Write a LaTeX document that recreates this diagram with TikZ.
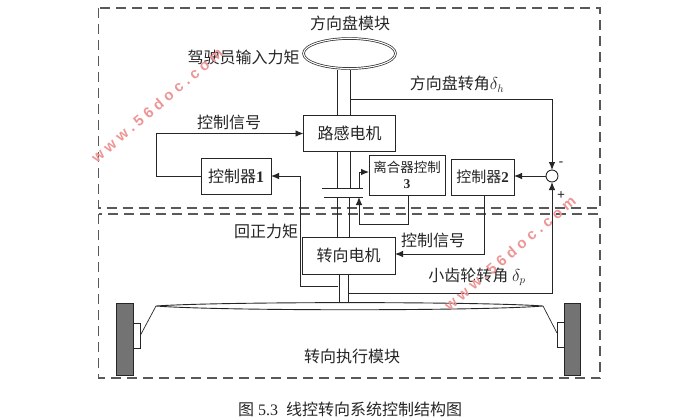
\documentclass[tikz,border=0pt]{standalone}
\usepackage{fontspec}
\setmainfont{Liberation Serif}
\newfontfamily\cjk{Noto Sans CJK SC}
\newfontfamily\wmfont[LetterSpace=28]{Liberation Sans}
\usetikzlibrary{arrows.meta,shapes.geometric}
\definecolor{linec}{gray}{0.15}
\definecolor{wmc}{RGB}{238,150,150}
\tikzset{
  every node/.style={inner sep=0pt,outer sep=0pt,text=black!85},
  wire/.style={draw=linec,line width=0.9pt},
  arr/.style={wire,-{Latex[length=8pt,width=6.5pt]}},
  dashbox/.style={draw=black!65,line width=1.2pt,dash pattern=on 10pt off 6pt},
  blockbox/.style={draw=linec,line width=0.9pt,fill=white,font=\cjk\fontsize{16}{18}\selectfont,align=center},
  lab/.style={font=\cjk\fontsize{16}{18}\selectfont},
  watermark/.style={text=wmc,font=\wmfont\bfseries\fontsize{15}{15}\selectfont,rotate=40.5},
}
\begin{document}
\begin{tikzpicture}[x=1pt,y=-1pt]
\useasboundingbox (0,0) rectangle (699,418);
\fill[white] (0,0) rectangle (699,418);
% module frames
\draw[dashbox] (98.5,8) rectangle (600,208);
\draw[dashbox] (98.5,214) rectangle (600,378);
% steering wheel
\node[draw=linec,double=white,double distance=1.1pt,line width=0.7pt,ellipse,minimum width=92pt,minimum height=30pt] (wheel) at (349.5,53.5) {};
% blocks
\node[blockbox,minimum width=92pt,minimum height=36pt] (fb) at (349.5,133.5) {路感电机};
\node[blockbox,minimum width=70pt,minimum height=36pt] (c1) at (236,176) {控制器{\rmfamily\bfseries 1}};
\node[blockbox,minimum width=76pt,minimum height=40pt,font=\cjk\fontsize{13.5}{17}\selectfont] (c3) at (407,175) {离合器控制\\[-1pt]{\rmfamily\bfseries 3}};
\node[blockbox,minimum width=63pt,minimum height=36pt,font=\cjk\fontsize{15}{17}\selectfont] (c2) at (482.5,177) {控制器{\rmfamily\bfseries 2}};
\node[blockbox,minimum width=93pt,minimum height=37pt] (sm) at (348.5,255.5) {转向电机};
\node[draw=linec,line width=0.9pt,circle,minimum size=12pt,fill=white] (sum) at (552,176) {};
% named points
\coordinate (su1) at (337,69.5); \coordinate (su2) at (350,69.5);
\coordinate (fb1) at (337,115.5); \coordinate (fb2) at (350,115.5);
\coordinate (fd1) at (337,151.5); \coordinate (fd2) at (350,151.5);
\coordinate (pu1) at (337,188); \coordinate (pu2) at (350,188);
\coordinate (pd1) at (337,197); \coordinate (pd2) at (349,197);
\coordinate (sm1) at (337,237); \coordinate (sm2) at (349,237);
\coordinate (pul) at (322,188); \coordinate (pur) at (363,188);
\coordinate (pdl) at (324,197); \coordinate (pdr) at (363,197);
\coordinate (tap1) at (350,99);
\coordinate (tap2) at (338,286);
\coordinate (tap3) at (348,293);
\coordinate (cu) at (359,188);
\coordinate (cd) at (359,197);
\coordinate (c3b) at (408,195);
\coordinate (c2b) at (484,195);
\coordinate (sb1) at (339,274); \coordinate (sb2) at (348,274);
\coordinate (rk1) at (339,303); \coordinate (rk2) at (348,303);
\coordinate (rl) at (156,306); \coordinate (rr) at (543,306);
\coordinate (al) at (140,336); \coordinate (ar) at (557,333);
% shafts
\draw[wire] (su1)--(fb1) (su2)--(fb2) (fd1)--(pu1) (fd2)--(pu2);
\draw[wire] (pd1)--(sm1) (pd2)--(sm2);
\draw[wire] (pul)--(pur) (pdl)--(pdr);
% signals
\draw[arr] (c1.west) -- (156,176) -- (156,133.5) -- (fb.west);
\draw[arr] (tap2) -- (300,286) -- (300,176) -- (c1.east);
\draw[arr] (tap1) -| (sum.north);
\draw[arr] (tap3) -| (sum.south);
\draw[arr] (sum.west) -- (c2.east |- sum.west);
\draw[arr] (cu) |- (c3.west |- 0,172);
\draw[arr] (c3b) -- (408,224) -- (359,224) -- (cd);
\draw[arr] (c2b) |- (sm.east |- 0,254);
% rack
\draw[wire] (rl) .. controls (220,301.5) and (480,301.5) .. (rr) .. controls (480,311) and (220,311) .. (rl) -- cycle;
\draw[wire] (sb1)--(rk1) (sb2)--(rk2);
\draw[wire,line width=0.7pt] (rl)--(al) (rr)--(ar);
% hubs and wheels
\node[draw=linec,line width=0.9pt,fill=white,minimum width=7pt,minimum height=25pt] (hl) at (136.5,335.5) {};
\node[draw=linec,line width=0.9pt,fill=white,minimum width=7pt,minimum height=25pt] (hr) at (560.5,334.5) {};
\node[draw=linec,line width=0.9pt,fill=black!55,minimum width=16.5pt,minimum height=72pt] (wl) at (125,339) {};
\node[draw=linec,line width=0.9pt,fill=black!55,minimum width=16.5pt,minimum height=72pt] (wr) at (572.5,339) {};
% labels
\node[lab] (t1) at (350,23) {方向盘模块};
\node[lab] (t2) at (243.5,57) {驾驶员输入力矩};
\node[lab] (t3) at (229,122) {控制信号};
\node[lab] (t4) at (457,84) {方向盘转角$\delta_{h}$};
\node[font=\rmfamily\bfseries\fontsize{13}{13}\selectfont] (minus) at (561,164) {-};
\node[font=\rmfamily\bfseries\fontsize{14}{14}\selectfont] (plus) at (561,196) {+};
\node[lab] (t5) at (266,231) {回正力矩};
\node[lab] (t6) at (433,240) {控制信号};
\node[lab] (t7) at (477,277) {小齿轮转角 $\delta_{p}$};
\node[lab] (t8) at (352,356) {转向执行模块};
\node[font=\fontsize{16}{17}\selectfont] (cap) at (350,409) {{\cjk 图} 5.3\ \ {\cjk 线控转向系统控制结构图}};
% watermarks
\node[watermark] (wm1) at (157,105) {www.56doc.com};
\node[watermark] (wm2) at (510,253) {www.56doc.com};
\end{tikzpicture}
\end{document}
